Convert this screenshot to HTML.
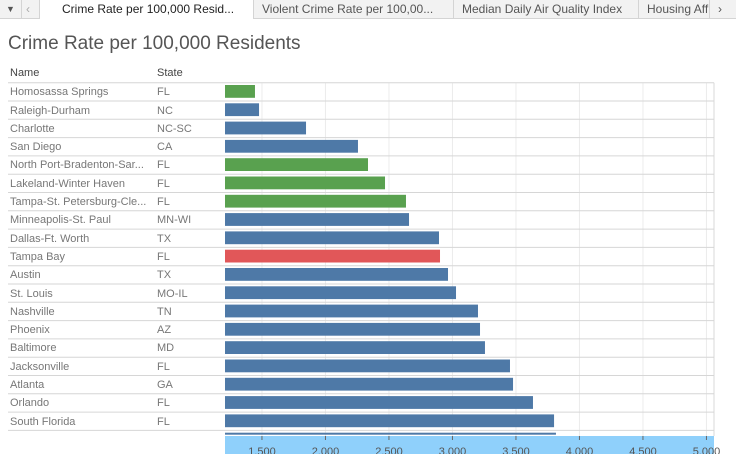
<!DOCTYPE html>
<html><head><meta charset="utf-8"><style>
body{margin:0;width:736px;height:454px;overflow:hidden;background:#fff;font-family:"Liberation Sans",sans-serif;position:relative}
.tabs{position:absolute;left:0;top:0;width:736px;height:18px;background:#f2f2f2;border-bottom:1px solid #d4d4d4}
.tab{position:absolute;top:0;height:18px;line-height:18px;font-size:12px;color:#555;border-right:1px solid #d4d4d4;padding-left:8px;box-sizing:border-box;white-space:nowrap;overflow:hidden}
.tab.active{background:#fff;color:#222;height:19px}
.title{position:absolute;left:8px;top:33px;font-size:19px;color:#555;font-weight:300}
.hdr{position:absolute;top:67px;font-size:11px;color:#444}
.txt{position:absolute;font-size:11px;color:#777;white-space:nowrap}
</style></head><body>
<div class="tabs">
<div class="tab" style="left:0;width:22px;padding-left:6px;font-size:9px">▼</div>
<div class="tab" style="left:22px;width:18px;padding-left:4px;color:#aaa">‹</div>
<div class="tab active" style="left:40px;width:214px;padding-left:22px">Crime Rate per 100,000 Resid...</div>
<div class="tab" style="left:254px;width:200px">Violent Crime Rate per 100,00...</div>
<div class="tab" style="left:454px;width:185px">Median Daily Air Quality Index</div>
<div class="tab" style="left:639px;width:71px">Housing Aff</div>
<div class="tab" style="left:710px;width:26px;border-right:none">›</div>
</div>
<div class="title">Crime Rate per 100,000 Residents</div>
<div class="hdr" style="left:10px">Name</div>
<div class="hdr" style="left:157px">State</div>
<div id="rows"></div>
<svg id="chart" width="736" height="454" style="position:absolute;left:0;top:0"></svg>
<script>
const names=["Homosassa Springs","Raleigh-Durham","Charlotte","San Diego","North Port-Bradenton-Sar...","Lakeland-Winter Haven","Tampa-St. Petersburg-Cle...","Minneapolis-St. Paul","Dallas-Ft. Worth","Tampa Bay","Austin","St. Louis","Nashville","Phoenix","Baltimore","Jacksonville","Atlanta","Orlando","South Florida",""];
const states=["FL","NC","NC-SC","CA","FL","FL","FL","MN-WI","TX","FL","TX","MO-IL","TN","AZ","MD","FL","GA","FL","FL",""];
const values=[1445,1477,1847,2256,2335,2469,2634,2658,2894,2902,2965,3028,3201,3217,3256,3453,3477,3634,3800,3815];
const groups=["fl","other","other","other","fl","fl","fl","other","other","tampa","other","other","other","other","other","other","other","other","other","other"];
const ticks=[1500,2000,2500,3000,3500,4000,4500,5000];
const tickLabels=["1,500","2,000","2,500","3,000","3,500","4,000","4,500","5,000"];
const colors={fl:"#59a14f",other:"#4e79a7",tampa:"#e15759"};
const x0=225,x1=714,dMin=1209,pxPer=0.127;
const xs=v=>x0+(v-dMin)*pxPer;
const top0=82.7,rowH=18.3;
const ys=i=>top0+i*rowH;
const svg=document.getElementById('chart');
const NS="http://www.w3.org/2000/svg";
function mk(t,a){const e=document.createElementNS(NS,t);for(const k in a)e.setAttribute(k,a[k]);svg.appendChild(e);return e;}
ticks.forEach(t=>{const g=mk('line',{x1:xs(t),x2:xs(t),y1:top0,y2:436,stroke:'#ececec','stroke-width':1});

});
mk('line',{x1:x1,x2:x1,y1:top0,y2:436,stroke:'#d8d8d8'});
for(let i=0;i<20;i++){const l=mk('line',{x1:8,x2:x1,y1:ys(i),y2:ys(i),stroke:'#d6d6d6','stroke-width':1});

}
const rows=document.getElementById('rows');
values.forEach((v,i)=>{
 const y=ys(i)+2.3; const h=i==19?2:12.8;
 const b=mk('rect',{x:x0,y:y,width:xs(v)-x0,height:h,fill:colors[groups[i]]});
 
 
 if(names[i]){
  const n=document.createElement('div');n.className='txt';n.style.left='10px';n.style.top=(ys(i)+3.5)+'px';n.textContent=names[i];
  
  
  rows.appendChild(n);
  const s=document.createElement('div');s.className='txt';s.style.left='157px';s.style.top=(ys(i)+3.5)+'px';s.textContent=states[i];
  
  
  rows.appendChild(s);
 }
});
const band=mk('rect',{x:x0,y:436,width:x1-x0,height:18,fill:'#8fd0fb'});


ticks.forEach((t,i)=>{
 mk('line',{x1:xs(t),x2:xs(t),y1:436,y2:440,stroke:'#666'});
 const tx=mk('text',{x:xs(t),y:455,'text-anchor':'middle','font-size':11,fill:'#555','font-family':'Liberation Sans, sans-serif'});
 tx.textContent=tickLabels[i];
 
 
});
</script>
</body></html>
